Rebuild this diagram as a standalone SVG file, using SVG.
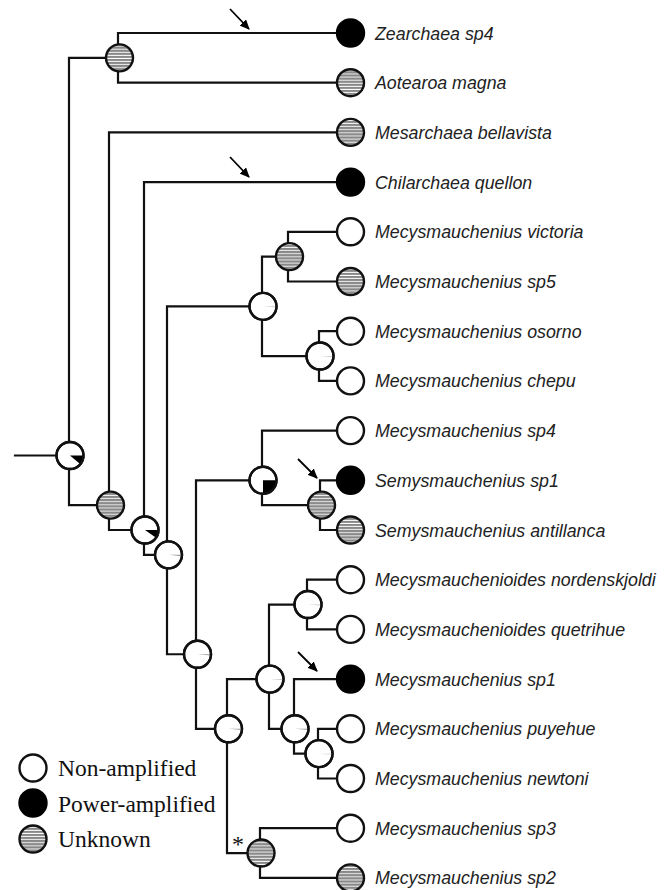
<svg xmlns="http://www.w3.org/2000/svg" width="668" height="890" viewBox="0 0 668 890">
<style>
.ln{fill:none;stroke:#111;stroke-width:2.2;stroke-linecap:square;stroke-linejoin:miter}
.w{fill:#fff;stroke:#111;stroke-width:2.4}
.b{fill:#000;stroke:#000;stroke-width:2.4}
.g{fill:url(#stripe);stroke:#111;stroke-width:2.4}
.ring{fill:none;stroke:#111;stroke-width:2.4}
.blk{fill:#000}
.sl{fill:#999}
.sl2{fill:#ccc}
.tx{font-family:"Liberation Sans",Arial,sans-serif;font-style:italic;font-size:17.8px;fill:#222}
.lg{font-family:"Liberation Serif","Times New Roman",serif;font-size:23.5px;fill:#111}
.ar{stroke:#000;stroke-width:1.8;fill:none;marker-end:url(#ah)}
</style>
<defs>
<pattern id="stripe" patternUnits="userSpaceOnUse" width="6" height="3.1">
<rect width="6" height="3.1" fill="#fff"/>
<rect width="6" height="2.2" fill="#888"/>
</pattern>
<marker id="ah" markerUnits="userSpaceOnUse" markerWidth="10" markerHeight="9" refX="9" refY="4.5" orient="auto">
<path d="M0,0 L10,4.5 L0,9 Z" fill="#000"/>
</marker>
</defs>
<rect width="668" height="890" fill="#fff"/>

<g id="connectors">
<path class="ln" d="M15 455.5 H69"/>
<path class="ln" d="M118 57.85 H69 V505.15 H109"/>
<path class="ln" d="M337 33 H118 V82.7 H337"/>
<path class="ln" d="M337 132.4 H109 V530 H144"/>
<path class="ln" d="M337 182.1 H144 V554.85 H167"/>
<path class="ln" d="M262 306.35 H167 V654.25 H196"/>
<path class="ln" d="M288 256.65 H262 V356.05 H319"/>
<path class="ln" d="M337 231.8 H288 V281.5 H337"/>
<path class="ln" d="M337 331.2 H319 V380.9 H337"/>
<path class="ln" d="M262 480.3 H196 V728.8 H227"/>
<path class="ln" d="M337 430.6 H262 V505.15 H320"/>
<path class="ln" d="M337 480.3 H320 V530 H337"/>
<path class="ln" d="M269 679.1 H227 V853.05 H260"/>
<path class="ln" d="M307 604.55 H269 V728.8 H294"/>
<path class="ln" d="M337 579.7 H307 V629.4 H337"/>
<path class="ln" d="M337 679.1 H294 V753.65 H318"/>
<path class="ln" d="M337 728.8 H318 V778.5 H337"/>
<path class="ln" d="M337 828.2 H260 V877.9 H337"/>
<line class="ar" x1="230" y1="9" x2="249" y2="29"/>
<line class="ar" x1="230" y1="157" x2="249" y2="177"/>
<line class="ar" x1="298" y1="459" x2="317" y2="478"/>
<line class="ar" x1="298" y1="652" x2="317" y2="671"/>
</g>

<g id="node-root"><circle class="w" cx="70" cy="455.5" r="13.5"/><path class="blk" d="M70 455.5 L83.5 455.5 A13.5 13.5 0 0 1 80.34 464.18 Z"/><circle class="ring" cx="70" cy="455.5" r="13.5"/></g>
<g id="node-zear"><circle class="g" cx="119.5" cy="57.85" r="13.5"/></g>
<g id="node-n2"><circle class="g" cx="110.5" cy="505.15" r="13.5"/></g>
<g id="node-n3"><circle class="w" cx="145" cy="530" r="13.5"/><path class="blk" d="M145 530 L158.5 530 A13.5 13.5 0 0 1 156.06 537.74 Z"/><circle class="ring" cx="145" cy="530" r="13.5"/></g>
<g id="node-n4"><circle class="w" cx="168.5" cy="554.85" r="13.5"/><path class="sl" d="M168.5 554.85 L182 554.85 A13.5 13.5 0 0 1 181.93 556.25 Z"/><circle class="ring" cx="168.5" cy="554.85" r="13.5"/></g>
<g id="node-m1"><circle class="w" cx="263" cy="306.35" r="13.5"/><path class="sl2" d="M263 306.35 L276.5 306.35 A13.5 13.5 0 0 1 276.45 307.5 Z"/><circle class="ring" cx="263" cy="306.35" r="13.5"/></g>
<g id="node-vs"><circle class="g" cx="289.5" cy="256.65" r="13.5"/></g>
<g id="node-oc"><circle class="w" cx="320" cy="356.05" r="13.5"/><path class="sl2" d="M320 356.05 L333.5 356.05 A13.5 13.5 0 0 1 333.45 357.2 Z"/><circle class="ring" cx="320" cy="356.05" r="13.5"/></g>
<g id="node-n5"><circle class="w" cx="197.5" cy="654.25" r="13.5"/><path class="sl" d="M197.5 654.25 L211 654.25 A13.5 13.5 0 0 1 210.95 655.4 Z"/><circle class="ring" cx="197.5" cy="654.25" r="13.5"/></g>
<g id="node-ss"><circle class="w" cx="263" cy="480.3" r="13.5"/><path class="blk" d="M263 480.3 L276.5 480.3 A13.5 13.5 0 0 1 263 493.8 Z"/><circle class="ring" cx="263" cy="480.3" r="13.5"/></g>
<g id="node-semy"><circle class="g" cx="321.5" cy="505.15" r="13.5"/></g>
<g id="node-n6"><circle class="w" cx="228.5" cy="728.8" r="13.5"/><path class="sl" d="M228.5 728.8 L242 728.8 A13.5 13.5 0 0 1 241.95 729.95 Z"/><circle class="ring" cx="228.5" cy="728.8" r="13.5"/></g>
<g id="node-n7"><circle class="w" cx="270" cy="679.1" r="13.5"/><path class="sl2" d="M270 679.1 L283.5 679.1 A13.5 13.5 0 0 1 283.45 680.25 Z"/><circle class="ring" cx="270" cy="679.1" r="13.5"/></g>
<g id="node-nq"><circle class="w" cx="308" cy="604.55" r="13.5"/><path class="sl2" d="M308 604.55 L321.5 604.55 A13.5 13.5 0 0 1 321.45 605.7 Z"/><circle class="ring" cx="308" cy="604.55" r="13.5"/></g>
<g id="node-n8"><circle class="w" cx="295" cy="728.8" r="13.5"/><path class="sl" d="M295 728.8 L308.5 728.8 A13.5 13.5 0 0 1 308.45 729.95 Z"/><circle class="ring" cx="295" cy="728.8" r="13.5"/></g>
<g id="node-pn"><circle class="w" cx="319" cy="753.65" r="13.5"/><path class="sl2" d="M319 753.65 L332.5 753.65 A13.5 13.5 0 0 1 332.45 754.8 Z"/><circle class="ring" cx="319" cy="753.65" r="13.5"/></g>
<g id="node-32"><circle class="g" cx="261" cy="853.05" r="13.5"/><text x="232" y="852" font-family="Liberation Serif, serif" font-size="24" fill="#111">*</text></g>

<g id="leaf-0"><circle class="b" cx="350.5" cy="33" r="13.5"/><text class="tx" x="375" y="39.5">Zearchaea sp4</text></g>
<g id="leaf-1"><circle class="g" cx="350.5" cy="82.7" r="13.5"/><text class="tx" x="375" y="89.2">Aotearoa magna</text></g>
<g id="leaf-2"><circle class="g" cx="350.5" cy="132.4" r="13.5"/><text class="tx" x="375" y="138.9">Mesarchaea bellavista</text></g>
<g id="leaf-3"><circle class="b" cx="350.5" cy="182.1" r="13.5"/><text class="tx" x="375" y="188.6">Chilarchaea quellon</text></g>
<g id="leaf-4"><circle class="w" cx="350.5" cy="231.8" r="13.5"/><text class="tx" x="375" y="238.3">Mecysmauchenius victoria</text></g>
<g id="leaf-5"><circle class="g" cx="350.5" cy="281.5" r="13.5"/><text class="tx" x="375" y="288">Mecysmauchenius sp5</text></g>
<g id="leaf-6"><circle class="w" cx="350.5" cy="331.2" r="13.5"/><text class="tx" x="375" y="337.7">Mecysmauchenius osorno</text></g>
<g id="leaf-7"><circle class="w" cx="350.5" cy="380.9" r="13.5"/><text class="tx" x="375" y="387.4">Mecysmauchenius chepu</text></g>
<g id="leaf-8"><circle class="w" cx="350.5" cy="430.6" r="13.5"/><text class="tx" x="375" y="437.1">Mecysmauchenius sp4</text></g>
<g id="leaf-9"><circle class="b" cx="350.5" cy="480.3" r="13.5"/><text class="tx" x="375" y="486.8">Semysmauchenius sp1</text></g>
<g id="leaf-10"><circle class="g" cx="350.5" cy="530" r="13.5"/><text class="tx" x="375" y="536.5">Semysmauchenius antillanca</text></g>
<g id="leaf-11"><circle class="w" cx="350.5" cy="579.7" r="13.5"/><text class="tx" x="375" y="586.2">Mecysmauchenioides nordenskjoldi</text></g>
<g id="leaf-12"><circle class="w" cx="350.5" cy="629.4" r="13.5"/><text class="tx" x="375" y="635.9">Mecysmauchenioides quetrihue</text></g>
<g id="leaf-13"><circle class="b" cx="350.5" cy="679.1" r="13.5"/><text class="tx" x="375" y="685.6">Mecysmauchenius sp1</text></g>
<g id="leaf-14"><circle class="w" cx="350.5" cy="728.8" r="13.5"/><text class="tx" x="375" y="735.3">Mecysmauchenius puyehue</text></g>
<g id="leaf-15"><circle class="w" cx="350.5" cy="778.5" r="13.5"/><text class="tx" x="375" y="785">Mecysmauchenius newtoni</text></g>
<g id="leaf-16"><circle class="w" cx="350.5" cy="828.2" r="13.5"/><text class="tx" x="375" y="834.7">Mecysmauchenius sp3</text></g>
<g id="leaf-17"><circle class="g" cx="350.5" cy="877.9" r="13.5"/><text class="tx" x="375" y="884.4">Mecysmauchenius sp2</text></g>

<g id="legend">
<circle class="w" cx="33" cy="768" r="13.5"/><text class="lg" x="58" y="776">Non-amplified</text>
<circle class="b" cx="33" cy="803" r="13.5"/><text class="lg" x="58" y="812">Power-amplified</text>
<circle class="g" cx="33" cy="839" r="13.5"/><text class="lg" x="58" y="847">Unknown</text>
</g>
</svg>
